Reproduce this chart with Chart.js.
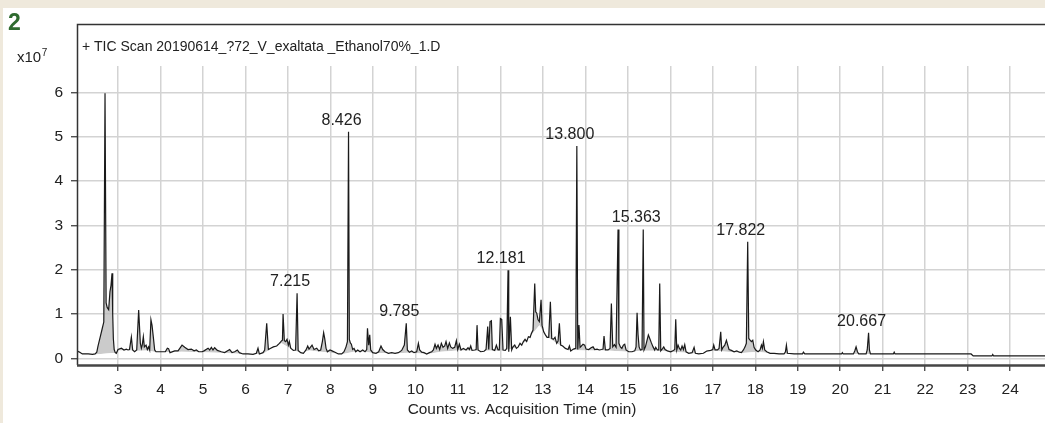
<!DOCTYPE html>
<html><head><meta charset="utf-8">
<script src="https://cdn.jsdelivr.net/npm/chart.js@4/dist/chart.umd.min.js"></script>
<style>
html,body{margin:0;padding:0;background:#fff;}
canvas{display:block;}
</style></head><body>
<canvas id="c" width="1045" height="423"></canvas>
<script>
// ---- data ----
const xTicks = [3,4,5,6,7,8,9,10,11,12,13,14,15,16,17,18,19,20,21,22,23,24];
const yTicks = [0,1,2,3,4,5,6];
const titleText = '+ TIC Scan 20190614_?72_V_exaltata _Ethanol70%_1.D';
const xAxisTitle = 'Counts vs. Acquisition Time (min)';
const panelLabel = '2';
const yUnitBase = 'x10';
const yUnitExp = '7';
const peakTimes = [7.215, 8.426, 9.785, 12.181, 13.800, 15.363, 17.822, 20.667];
const peakHeights = [1.47, 5.11, 0.79, 1.99, 4.79, 2.91, 2.63, 0.58];
// TIC trace: [time (min), counts x1e7]
const trace = [
[2.058,0.16],[2.10,0.14],[2.16,0.10],[2.30,0.10],[2.40,0.09],[2.46,0.10],[2.50,0.14],[2.53,0.28],[2.58,0.48],[2.63,0.68],[2.665,0.82],[2.694,5.98],[2.72,1.25],[2.745,1.15],[2.78,1.10],[2.81,1.50],[2.835,1.65],[2.859,1.92],[2.875,1.0],[2.89,0.45],[2.91,0.20],[2.935,0.13],
[2.96,0.115],[3.0,0.20],[3.08,0.23],[3.14,0.19],[3.196,0.21],[3.235,0.19],[3.27,0.20],[3.314,0.48],[3.345,0.19],[3.39,0.15],[3.44,0.19],[3.486,1.09],[3.526,0.34],[3.55,0.23],[3.57,0.30],[3.596,0.49],[3.62,0.26],[3.66,0.30],[3.69,0.20],[3.72,0.26],[3.745,0.19],[3.775,0.87],[3.80,0.75],[3.83,0.49],[3.863,0.19],[3.894,0.15],
[3.98,0.15],[4.114,0.15],[4.161,0.23],[4.19,0.22],[4.224,0.13],[4.334,0.17],[4.413,0.17],[4.507,0.30],[4.57,0.25],[4.648,0.20],[4.726,0.21],[4.79,0.17],[4.844,0.19],[4.899,0.15],[4.98,0.15],[5.024,0.17],[5.12,0.23],[5.158,0.19],[5.197,0.25],[5.236,0.19],[5.275,0.24],[5.338,0.18],[5.432,0.15],[5.51,0.13],[5.628,0.20],[5.684,0.13],[5.746,0.15],[5.809,0.19],[5.856,0.13],[5.942,0.10],[6.06,0.10],[6.178,0.09],[6.256,0.115],[6.295,0.23],[6.327,0.10],[6.413,0.13],[6.452,0.19],[6.50,0.79],[6.539,0.20],[6.594,0.23],
[6.656,0.26],[6.735,0.28],[6.798,0.34],[6.853,0.40],[6.87,0.41],[6.885,1.0],[6.915,0.40],[6.947,0.38],[6.978,0.43],[7.01,0.30],[7.033,0.38],[7.065,0.23],[7.127,0.18],[7.18,0.19],[7.215,1.47],[7.24,0.18],[7.30,0.13],[7.363,0.115],[7.425,0.19],[7.465,0.28],[7.496,0.21],[7.527,0.25],[7.567,0.30],[7.614,0.20],[7.677,0.23],[7.724,0.17],[7.771,0.19],[7.81,0.38],[7.84,0.58],[7.865,0.45],[7.896,0.23],[7.928,0.15],[7.99,0.19],[8.037,0.17],[8.108,0.14],[8.186,0.10],[8.265,0.10],[8.32,0.15],[8.367,0.26],[8.40,0.38],[8.426,5.11],[8.445,0.43],[8.469,0.35],[8.493,0.32],[8.524,0.20],[8.556,0.226],[8.595,0.15],[8.642,0.19],[8.697,0.15],[8.76,0.19],[8.814,0.15],[8.854,0.20],[8.872,0.68],[8.901,0.30],[8.925,0.53],[8.948,0.19],[8.995,0.13],[9.073,0.115],[9.136,0.15],[9.19,0.28],[9.23,0.20],[9.285,0.15],[9.364,0.115],[9.442,0.13],[9.52,0.115],[9.599,0.13],[9.677,0.18],[9.74,0.30],[9.785,0.79],[9.811,0.19],[9.858,0.14],[9.913,0.167],[9.968,0.13],[10.03,0.15],[10.07,0.34],[10.10,0.19],[10.148,0.14],[10.203,0.13],[10.266,0.10],[10.329,0.13],[10.384,0.15],[10.423,0.19],[10.462,0.32],[10.494,0.226],[10.533,0.30],[10.572,0.20],[10.611,0.34],[10.65,0.25],[10.69,0.28],[10.721,0.38],[10.76,0.226],[10.80,0.35],[10.831,0.26],[10.878,0.226],[10.925,0.25],[10.964,0.40],[10.996,0.20],[11.035,0.32],[11.074,0.19],[11.129,0.226],
[11.192,0.19],[11.239,0.24],[11.27,0.20],[11.302,0.28],[11.333,0.18],[11.396,0.19],[11.43,0.20],[11.451,0.75],[11.475,0.19],[11.537,0.15],[11.616,0.16],[11.663,0.20],[11.702,0.72],[11.726,0.20],[11.757,0.83],[11.789,0.85],[11.812,0.20],[11.867,0.18],[11.906,0.30],[11.945,0.19],[11.975,0.19],[12.0,0.90],[12.032,0.88],[12.063,0.19],[12.118,0.18],[12.15,0.226],[12.181,1.99],[12.197,0.15],[12.236,0.94],[12.267,0.19],[12.298,0.26],[12.338,0.30],[12.377,0.226],[12.42,0.26],[12.463,0.34],[12.503,0.30],[12.542,0.38],[12.581,0.43],[12.62,0.38],[12.66,0.49],[12.699,0.475],[12.73,0.56],[12.769,0.64],[12.809,1.69],[12.832,1.05],[12.856,1.02],[12.887,0.87],[12.918,0.83],[12.958,1.32],[12.981,0.75],[13.02,0.60],[13.06,0.53],[13.099,0.475],[13.138,0.475],[13.177,1.28],[13.209,0.45],[13.248,0.43],[13.287,0.475],[13.326,0.34],[13.358,0.39],[13.389,0.79],[13.42,0.30],[13.468,0.28],[13.53,0.226],[13.593,0.20],[13.625,0.28],[13.656,0.167],[13.719,0.21],[13.775,0.226],[13.80,4.79],[13.822,0.20],[13.85,0.75],[13.876,0.25],[13.907,0.28],[13.946,0.32],[13.985,0.30],[14.017,0.21],[14.08,0.20],[14.135,0.24],[14.182,0.26],[14.221,0.20],[14.276,0.21],[14.331,0.19],[14.378,0.20],[14.417,0.21],[14.44,0.505],[14.472,0.19],[14.535,0.19],[14.582,0.226],[14.613,1.24],[14.645,0.26],[14.684,0.31],[14.723,0.25],[14.77,2.91],[14.79,0.34],[14.825,0.26],[14.86,0.226],[14.896,0.30],[14.927,0.32],[14.959,0.19],[15.021,0.15],[15.1,0.15],[15.163,0.17],[15.194,0.26],[15.218,1.03],[15.241,0.53],[15.265,0.26],[15.296,0.19],[15.335,0.20],[15.363,2.91],[15.382,0.19],[15.414,0.26],[15.445,0.377],[15.484,0.53],[15.516,0.45],[15.555,0.35],[15.594,0.26],[15.633,0.19],
[15.657,0.25],[15.696,0.19],[15.728,0.19],[15.751,1.69],[15.775,0.17],[15.822,0.226],[15.846,0.26],[15.877,0.20],[15.932,0.17],[16.01,0.15],[16.073,0.18],[16.105,0.20],[16.128,0.88],[16.152,0.19],[16.183,0.30],[16.214,0.226],[16.246,0.19],[16.277,0.28],[16.309,0.20],[16.34,0.31],[16.371,0.15],[16.434,0.115],[16.513,0.13],[16.56,0.25],[16.591,0.115],[16.67,0.10],[16.779,0.115],[16.858,0.167],[16.952,0.18],[16.999,0.20],[17.022,0.30],[17.054,0.19],[17.109,0.19],[17.148,0.226],[17.187,0.60],[17.211,0.19],[17.242,0.25],[17.282,0.30],[17.321,0.41],[17.352,0.30],[17.383,0.20],[17.438,0.18],[17.501,0.15],[17.564,0.167],[17.627,0.14],[17.674,0.13],[17.721,0.19],[17.76,0.26],[17.79,0.34],[17.822,2.63],[17.847,0.45],[17.878,0.41],[17.909,0.377],[17.941,0.41],[17.972,0.25],[18.011,0.19],[18.066,0.15],[18.113,0.19],[18.145,0.30],[18.168,0.226],[18.192,0.377],[18.223,0.19],[18.27,0.15],[18.349,0.115],[18.443,0.115],[18.56,0.10],[18.678,0.10],[18.71,0.15],[18.733,0.30],[18.757,0.115],[18.914,0.10],[19.11,0.10],[19.133,0.14],[19.165,0.10],
[20.03,0.10],[20.05,0.13],[20.07,0.10],[20.31,0.10],[20.342,0.167],[20.373,0.26],[20.405,0.15],[20.436,0.10],[20.609,0.10],[20.635,0.19],[20.667,0.58],[20.687,0.19],[20.711,0.10],[21.25,0.10],[21.27,0.14],[21.29,0.10],[23.08,0.10],[23.13,0.055],[23.57,0.055],[23.59,0.09],[23.61,0.055],[24.82,0.055]
];
// integration baseline under the peaks (shaded area = trace above this line)
const integrationBaseline = [
[2.058,0.13],[2.46,0.09],[2.94,0.13],[3.0,0.18],[3.3,0.18],[3.5,0.17],[3.7,0.18],[3.9,0.14],[4.5,0.15],[5.0,0.14],[5.5,0.12],[5.95,0.10],[6.2,0.09],[6.45,0.12],[6.6,0.22],[6.85,0.34],[7.1,0.2],[7.3,0.12],[7.5,0.18],[7.75,0.15],[7.93,0.14],[8.2,0.10],[8.3,0.10],[8.55,0.15],[8.8,0.15],[9.0,0.12],[9.7,0.12],[9.86,0.13],[10.3,0.10],[10.6,0.15],[11.0,0.18],[11.5,0.17],[12.1,0.18],[12.4,0.25],[12.6,0.38],[12.75,0.55],[12.92,0.75],[13.02,0.58],[13.14,0.46],[13.3,0.36],[13.45,0.27],[13.6,0.19],[14.0,0.18],[14.5,0.18],[15.0,0.15],[15.3,0.17],[15.7,0.17],[16.0,0.15],[16.4,0.13],[16.7,0.10],[17.0,0.17],[17.5,0.14],[17.7,0.12],[18.05,0.15],[18.4,0.11],[19,0.10],[23.08,0.10],[23.13,0.055],[24.82,0.055]
];

const FONT = "'Liberation Sans', Arial, sans-serif";
const toXY = arr => arr.map(p => ({x: p[0], y: p[1]}));

const deco = {
  id: 'deco',
  beforeDraw(chart) {
    const ctx = chart.ctx;
    ctx.save();
    ctx.fillStyle = '#ffffff';
    ctx.fillRect(0, 0, chart.width, chart.height);
    ctx.fillStyle = '#efe9dc';
    ctx.fillRect(0, 0, chart.width, 8);
    ctx.fillRect(0, 0, 3, chart.height);
    ctx.restore();
  },
  afterDraw(chart) {
    const {ctx, chartArea: a, scales: {x, y}} = chart;
    ctx.save();
    // frame
    ctx.strokeStyle = '#333333';
    ctx.lineWidth = 1.5;
    ctx.beginPath();
    ctx.moveTo(a.left - 0.5, a.bottom);
    ctx.lineTo(a.left - 0.5, 24.5);
    ctx.lineTo(a.right, 24.5);
    ctx.stroke();
    ctx.strokeStyle = '#454545';
    ctx.lineWidth = 2.5;
    ctx.beginPath();
    ctx.moveTo(a.left - 1, a.bottom + 0.5);
    ctx.lineTo(a.right, a.bottom + 0.5);
    ctx.stroke();
    // texts
    ctx.fillStyle = '#222222';
    ctx.textBaseline = 'middle';
    ctx.textAlign = 'left';
    ctx.font = '14px ' + FONT;
    ctx.fillText(titleText, 82, 47);
    ctx.font = '15.4px ' + FONT;
    ctx.textAlign = 'center';
    ctx.fillText(xAxisTitle, 522, 410);
    // y multiplier
    ctx.textAlign = 'left';
    ctx.font = '15px ' + FONT;
    ctx.fillText(yUnitBase, 17, 58);
    const w = ctx.measureText(yUnitBase).width;
    ctx.font = '10px ' + FONT;
    ctx.fillText(yUnitExp, 17 + w + 0.5, 53);
    // panel label
    ctx.fillStyle = '#2f6b2f';
    ctx.font = 'bold 23px ' + FONT;
    ctx.fillText(panelLabel, 8, 24);
    // peak labels
    ctx.fillStyle = '#222222';
    ctx.font = '16px ' + FONT;
    ctx.textAlign = 'center';
    ctx.textBaseline = 'alphabetic';
    peakTimes.forEach((t, i) => {
      const px = x.getPixelForValue(t) - 7;
      const py = y.getPixelForValue(peakHeights[i]) - 7;
      ctx.fillText(t.toFixed(3), px, py);
    });
    ctx.restore();
  }
};

new Chart(document.getElementById('c'), {
  type: 'line',
  data: {
    datasets: [
      {
        label: 'TIC',
        data: toXY(trace),
        borderColor: '#1a1a1a',
        borderWidth: 1.2,
        pointRadius: 0,
        tension: 0,
        fill: {target: 1, above: 'rgba(185,185,185,0.75)', below: 'rgba(0,0,0,0)'}
      },
      {
        label: 'baseline',
        data: toXY(integrationBaseline),
        borderColor: 'rgba(0,0,0,0)',
        borderWidth: 0,
        pointRadius: 0,
        tension: 0,
        fill: false
      }
    ]
  },
  options: {
    responsive: false,
    animation: false,
    devicePixelRatio: 1,
    layout: {padding: {left: 0, right: 0, top: 66, bottom: 0}},
    plugins: {legend: {display: false}, tooltip: {enabled: false}, title: {display: false}},
    scales: {
      x: {
        type: 'linear',
        position: 'bottom',
        min: 2.058,
        max: 24.82,
        afterBuildTicks: s => { s.ticks = xTicks.map(v => ({value: v})); },
        afterFit: s => { s.height = 58; },
        border: {display: false},
        grid: {color: '#d3d3d3', lineWidth: 1.5, tickLength: 6, tickColor: '#333333', tickWidth: 1.2, drawTicks: true},
        ticks: {color: '#222222', font: {family: FONT, size: 15.5}, padding: 9, maxRotation: 0, autoSkip: false, callback: v => String(v)}
      },
      y: {
        type: 'linear',
        min: -0.149,
        max: 6.596,
        afterBuildTicks: s => { s.ticks = yTicks.map(v => ({value: v})); },
        afterFit: s => { s.width = 78; },
        border: {display: false},
        grid: {color: '#d3d3d3', lineWidth: 1.5, tickLength: 7, tickColor: '#333333', tickWidth: 1.2, drawTicks: true},
        ticks: {color: '#222222', font: {family: FONT, size: 15.5}, padding: 8, callback: v => String(v)}
      }
    }
  },
  plugins: [deco]
});
</script>
</body></html>
